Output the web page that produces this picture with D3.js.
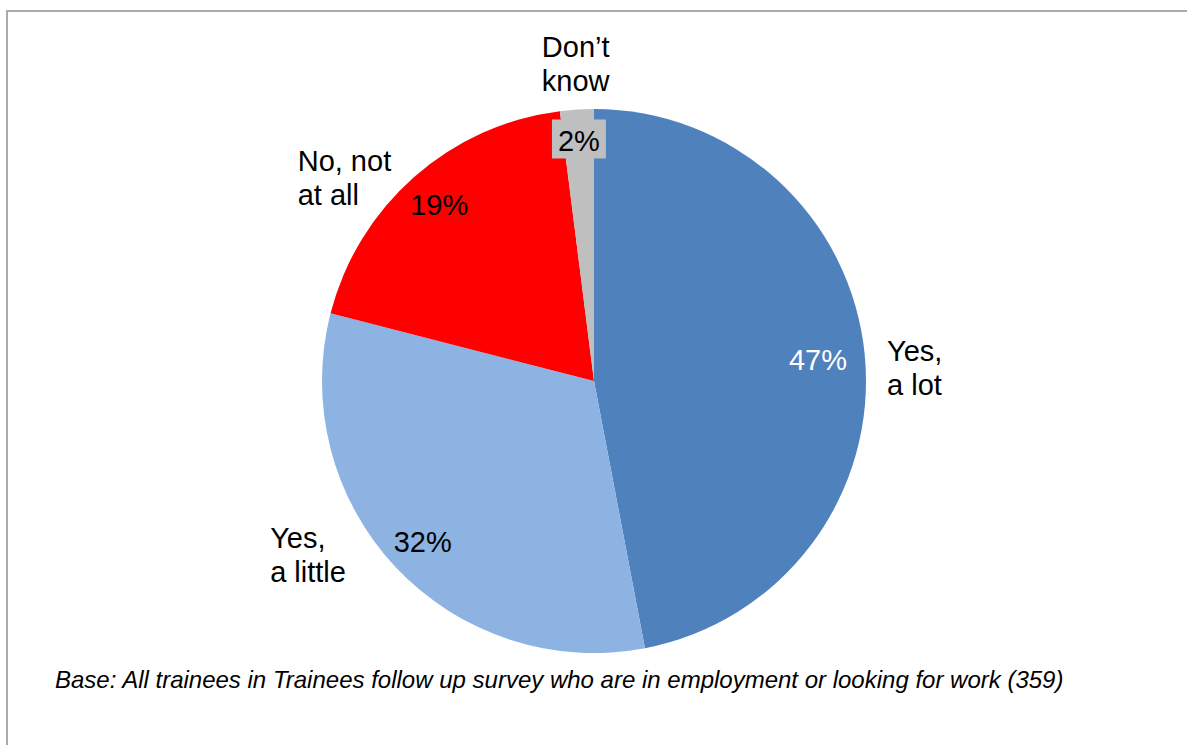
<!DOCTYPE html>
<html>
<head>
<meta charset="utf-8">
<script src="https://cdn.jsdelivr.net/npm/d3@7"></script>
<style>
  html, body { margin: 0; padding: 0; background: #fff; }
  svg { display: block; font-family: "Liberation Sans", Arial, sans-serif; }
</style>
</head>
<body>
<svg id="chart" width="1187" height="745"></svg>
<script>
// ---- data ----
const categories = ["Yes, a lot", "Yes, a little", "No, not at all", "Don\u2019t know"];
const categoryLines = [["Yes,", "a lot"], ["Yes,", "a little"], ["No, not", "at all"], ["Don\u2019t", "know"]];
const values = [47, 32, 19, 2];
const valueLabels = ["47%", "32%", "19%", "2%"];
const colors = ["#4f81bd", "#8db3e2", "#ff0000", "#bfbfbf"];
const footnote = "Base: All trainees in Trainees follow up survey who are in employment or looking for work (359)";

// ---- layout ----
const W = 1187, H = 745;
const cx = 594, cy = 381, R = 272;
const pctRadius = [225, 235, 234, 240];
const catAngle = [87.6, 238.75, 309.1, 356.7];
const catRadius = [321, 334.5, 321.6, 318];
const fontSize = 29, lineGap = 34;

const svg = d3.select("#chart");

// frame (top and left border)
svg.append("line").attr("x1", 7).attr("y1", 11).attr("x2", W).attr("y2", 11)
  .attr("stroke", "#ababab").attr("stroke-width", 2);
svg.append("line").attr("x1", 7).attr("y1", 10).attr("x2", 7).attr("y2", H)
  .attr("stroke", "#ababab").attr("stroke-width", 2);

const pie = d3.pie().sort(null).value(d => d)(values);
const arc = d3.arc().innerRadius(0).outerRadius(R);
const color = d3.scaleOrdinal().domain(categories).range(colors);

const g = svg.append("g").attr("transform", `translate(${cx},${cy})`);

g.selectAll("path.slice").data(pie).join("path")
  .attr("class", "slice")
  .attr("d", arc)
  .attr("fill", (d, i) => color(categories[i]));

// percentage labels
pie.forEach((d, i) => {
  const la = d3.arc().innerRadius(pctRadius[i]).outerRadius(pctRadius[i]);
  const [x, y] = la.centroid(d);
  const t = g.append("text")
    .attr("x", x).attr("y", y + 10)
    .attr("text-anchor", "middle")
    .attr("font-size", fontSize)
    .attr("fill", i === 0 ? "#ffffff" : "#000000")
    .text(valueLabels[i]);
  if (i === 3) {
    const bb = t.node().getBBox();
    g.insert("rect", () => t.node())
      .attr("x", bb.x - 6).attr("y", y - 22)
      .attr("width", bb.width + 12).attr("height", 39)
      .attr("fill", colors[3]);
  }
});

// category labels (two lines, left aligned, block centered on a polar point)
categoryLines.forEach((lines, i) => {
  const a = catAngle[i] * Math.PI / 180;
  const bx = catRadius[i] * Math.sin(a);
  const by = -catRadius[i] * Math.cos(a);
  const tg = g.append("g");
  const texts = lines.map((s, k) => tg.append("text")
    .attr("y", by - 7 + k * lineGap)
    .attr("font-size", fontSize)
    .attr("fill", "#000")
    .text(s));
  const maxW = d3.max(texts, t => t.node().getComputedTextLength());
  texts.forEach(t => t.attr("x", bx - maxW / 2));
});

// footnote
svg.append("text")
  .attr("x", 55).attr("y", 688)
  .attr("font-size", 24)
  .attr("font-style", "italic")
  .attr("fill", "#000")
  .text(footnote);
</script>
</body>
</html>
